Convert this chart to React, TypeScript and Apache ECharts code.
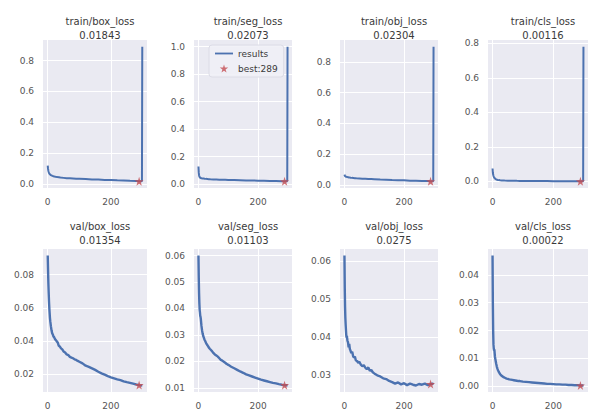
import React, { useEffect, useRef } from "react";
import * as echarts from "echarts";

// ---------- data ----------
const trainEpochs = [0, 1, 2, 3, 4, 5, 6, 8, 10, 12, 15, 18, 21, 25, 30, 35, 40, 50, 60, 70, 80, 90, 100, 120, 140, 160, 180, 200, 220, 240, 260, 280, 289, 295, 298, 299];
const valEpochs = [0, 1, 2, 3, 4, 5, 6, 7, 8, 10, 12, 14, 16, 18, 20, 23, 26, 29, 32, 35, 38, 42, 46, 50, 55, 60, 65, 70, 75, 80, 85, 90, 95, 100, 110, 120, 130, 140, 150, 160, 170, 180, 190, 200, 210, 220, 230, 240, 250, 260, 270, 280, 289, 295, 299];

const trainBoxLoss = [0.12, 0.098, 0.086, 0.078, 0.072, 0.068, 0.065, 0.061, 0.058, 0.056, 0.053, 0.051, 0.049, 0.047, 0.045, 0.044, 0.042, 0.04, 0.038, 0.037, 0.036, 0.035, 0.034, 0.032, 0.03, 0.029, 0.027, 0.026, 0.024, 0.023, 0.021, 0.0195, 0.01843, 0.0181, 0.018, 0.89];
const trainSegLoss = [0.128, 0.085, 0.065, 0.056, 0.051, 0.048, 0.046, 0.044, 0.043, 0.042, 0.041, 0.04, 0.039, 0.038, 0.037, 0.036, 0.035, 0.034, 0.033, 0.032, 0.031, 0.031, 0.03, 0.029, 0.028, 0.027, 0.026, 0.025, 0.024, 0.023, 0.022, 0.021, 0.02073, 0.0206, 0.0205, 1.0];
const trainObjLoss = [0.066, 0.06, 0.057, 0.055, 0.054, 0.053, 0.052, 0.051, 0.05, 0.049, 0.048, 0.047, 0.046, 0.045, 0.044, 0.043, 0.042, 0.041, 0.04, 0.039, 0.038, 0.037, 0.036, 0.034, 0.033, 0.031, 0.03, 0.029, 0.027, 0.026, 0.025, 0.024, 0.02304, 0.0229, 0.0228, 0.9];
const trainClsLoss = [0.075, 0.052, 0.04, 0.033, 0.028, 0.024, 0.021, 0.017, 0.014, 0.012, 0.01, 0.0088, 0.0078, 0.007, 0.0062, 0.0056, 0.0052, 0.0046, 0.0042, 0.0039, 0.0036, 0.0034, 0.0032, 0.0028, 0.0025, 0.0022, 0.002, 0.0018, 0.0016, 0.0015, 0.0013, 0.0012, 0.00116, 0.0011, 0.0011, 0.78];

const valBoxLoss = [0.0915, 0.083, 0.075, 0.069, 0.064, 0.06, 0.057, 0.054, 0.052, 0.049, 0.0465, 0.0448, 0.044, 0.0428, 0.0425, 0.0412, 0.0405, 0.0398, 0.039, 0.0372, 0.0368, 0.0356, 0.035, 0.0338, 0.0332, 0.032, 0.0316, 0.0305, 0.0301, 0.0297, 0.029, 0.0287, 0.0281, 0.0276, 0.0266, 0.0252, 0.0245, 0.0236, 0.0227, 0.0216, 0.0206, 0.0198, 0.0189, 0.0182, 0.0176, 0.017, 0.0165, 0.0158, 0.0153, 0.0149, 0.0144, 0.0139, 0.01354, 0.0134, 0.0133];
const valSegLoss = [0.06, 0.052, 0.046, 0.042, 0.0395, 0.0385, 0.0372, 0.0368, 0.036, 0.0335, 0.0318, 0.0305, 0.0296, 0.029, 0.0283, 0.0276, 0.0268, 0.0263, 0.0258, 0.0252, 0.0248, 0.0243, 0.0238, 0.0232, 0.0226, 0.0222, 0.0218, 0.0212, 0.0206, 0.0203, 0.0199, 0.0195, 0.019, 0.0187, 0.018, 0.0174, 0.0168, 0.0162, 0.0157, 0.0151, 0.0147, 0.0143, 0.0139, 0.0135, 0.0131, 0.0128, 0.0125, 0.0122, 0.0119, 0.0117, 0.0114, 0.0112, 0.01103, 0.011, 0.0109];
const valObjLoss = [0.0615, 0.053, 0.048, 0.045, 0.0432, 0.0418, 0.0405, 0.0398, 0.0402, 0.039, 0.0385, 0.0372, 0.0381, 0.0368, 0.0364, 0.0357, 0.036, 0.0349, 0.0345, 0.0348, 0.0338, 0.0336, 0.0331, 0.0334, 0.0326, 0.0322, 0.0325, 0.0318, 0.0314, 0.0319, 0.031, 0.0312, 0.0306, 0.0303, 0.0298, 0.0295, 0.029, 0.0288, 0.0283, 0.028, 0.0276, 0.0279, 0.0274, 0.0277, 0.0272, 0.0276, 0.0273, 0.0271, 0.0275, 0.0273, 0.0276, 0.0272, 0.0275, 0.0276, 0.0274];
const valClsLoss = [0.047, 0.03, 0.02, 0.015, 0.0135, 0.0128, 0.0132, 0.0118, 0.0105, 0.0092, 0.008, 0.007, 0.0063, 0.0057, 0.0052, 0.0046, 0.0041, 0.0038, 0.0035, 0.0033, 0.0031, 0.0029, 0.0027, 0.0026, 0.0024, 0.0023, 0.0022, 0.0021, 0.002, 0.0019, 0.0018, 0.0018, 0.0017, 0.0016, 0.0015, 0.0014, 0.0013, 0.0012, 0.0011, 0.001, 0.0009, 0.0008, 0.0008, 0.0007, 0.0006, 0.0006, 0.0005, 0.0005, 0.0004, 0.0004, 0.0003, 0.0003, 0.00022, 0.0002, 0.0002];

const panelTitles = ["train/box_loss", "train/seg_loss", "train/obj_loss", "train/cls_loss", "val/box_loss", "val/seg_loss", "val/obj_loss", "val/cls_loss"];
const bestLabels = ["0.01843", "0.02073", "0.02304", "0.00116", "0.01354", "0.01103", "0.0275", "0.00022"];
const bestEpoch = 289;
const xTicks = [0, 200];
const yTicks = [
  [0, 0.2, 0.4, 0.6, 0.8],
  [0, 0.2, 0.4, 0.6, 0.8, 1.0],
  [0, 0.2, 0.4, 0.6, 0.8],
  [0, 0.2, 0.4, 0.6, 0.8],
  [0.02, 0.04, 0.06, 0.08],
  [0.01, 0.02, 0.03, 0.04, 0.05, 0.06],
  [0.03, 0.04, 0.05, 0.06],
  [0, 0.01, 0.02, 0.03, 0.04],
];
const yDecimals = [1, 1, 1, 1, 2, 2, 2, 2];

// ---------- layout / style ----------
const W = 591;
const H = 417;
const colLeft = [43, 194, 340, 488];
const colWidth = [104, 98, 98, 100];
const rowTop = [40, 249];
const rowHeight = [148, 143];
const BG = "#EAEAF2";
const LINE = "#4C72B0";
const STAR = "#C44E52";
const TEXT = "#555555";
const FONT = "DejaVu Sans";
const starPath = "path://M50,0 L61,35 L98,35 L68,57 L79,91 L50,70 L21,91 L32,57 L2,35 L39,35 Z";
const lineIcon = "path://M0,0 L20,0 L20,2 L0,2 Z";

export default function App() {
  const ref = useRef<HTMLDivElement>(null);

  useEffect(() => {
    if (!ref.current) return;
    const chart = echarts.init(ref.current, undefined, { renderer: "svg" });

    const panels = [
      { epochs: trainEpochs, values: trainBoxLoss },
      { epochs: trainEpochs, values: trainSegLoss },
      { epochs: trainEpochs, values: trainObjLoss },
      { epochs: trainEpochs, values: trainClsLoss },
      { epochs: valEpochs, values: valBoxLoss },
      { epochs: valEpochs, values: valSegLoss },
      { epochs: valEpochs, values: valObjLoss },
      { epochs: valEpochs, values: valClsLoss },
    ];

    const grids: any[] = [];
    const xAxes: any[] = [];
    const yAxes: any[] = [];
    const series: any[] = [];
    const titles: any[] = [];

    const xMinData = 0;
    const xMaxData = 299;
    const xPad = (xMaxData - xMinData) * 0.05;

    panels.forEach((p, i) => {
      const r = Math.floor(i / 4);
      const c = i % 4;
      grids.push({
        left: colLeft[c],
        top: rowTop[r],
        width: colWidth[c],
        height: rowHeight[r],
        show: true,
        backgroundColor: BG,
        borderWidth: 0,
        containLabel: false,
      });
      const dmin = Math.min(...p.values);
      const dmax = Math.max(...p.values);
      const pad = (dmax - dmin) * 0.05;
      xAxes.push({
        type: "value",
        gridIndex: i,
        min: xMinData - xPad,
        max: xMaxData + xPad,
        axisLine: { show: false },
        axisTick: { show: false, customValues: xTicks },
        axisLabel: {
          customValues: xTicks,
          color: TEXT,
          fontSize: 9,
          fontFamily: FONT,
          margin: 9,
          formatter: (v: number) => String(Math.round(v)),
        },
        splitLine: { show: true, lineStyle: { color: "#ffffff", width: 1 } },
      });
      const dec = yDecimals[i];
      yAxes.push({
        type: "value",
        gridIndex: i,
        min: dmin - pad,
        max: dmax + pad,
        axisLine: { show: false },
        axisTick: { show: false, customValues: yTicks[i] },
        axisLabel: {
          customValues: yTicks[i],
          color: TEXT,
          fontSize: 9,
          fontFamily: FONT,
          margin: 9,
          formatter: (v: number) => v.toFixed(dec),
        },
        splitLine: { show: true, lineStyle: { color: "#ffffff", width: 1 } },
      });
      series.push({
        type: "line",
        name: "results",
        xAxisIndex: i,
        yAxisIndex: i,
        data: p.epochs.map((e, k) => [e, p.values[k]]),
        showSymbol: false,
        symbol: "none",
        lineStyle: { color: LINE, width: r === 0 ? 2 : 2.4 },
        itemStyle: { color: LINE },
        z: 2,
      });
      const bi = p.epochs.indexOf(bestEpoch);
      series.push({
        type: "scatter",
        name: "best:" + bestEpoch,
        xAxisIndex: i,
        yAxisIndex: i,
        data: [[bestEpoch, p.values[bi]]],
        symbol: starPath,
        symbolSize: 9,
        itemStyle: { color: STAR },
        z: 3,
      });
      titles.push({
        text: panelTitles[i] + "\n" + bestLabels[i],
        left: colLeft[c] + colWidth[c] / 2,
        top: r === 0 ? 9 : 214,
        textAlign: "center",
        textStyle: {
          fontSize: 10,
          fontWeight: "normal",
          color: "#3a3a3a",
          fontFamily: FONT,
          lineHeight: 14,
        },
      });
    });

    chart.setOption({
      animation: false,
      backgroundColor: "#ffffff",
      title: titles,
      grid: grids,
      xAxis: xAxes,
      yAxis: yAxes,
      series,
      legend: {
        data: [
          { name: "results", icon: lineIcon, itemStyle: { color: LINE } },
          { name: "best:" + bestEpoch, icon: starPath },
        ],
        orient: "vertical",
        left: 209,
        top: 45,
        itemWidth: 18,
        itemHeight: 8,
        itemGap: 6,
        padding: [4, 6, 4, 6],
        backgroundColor: "rgba(240,240,246,0.9)",
        borderColor: "#dcdce6",
        borderWidth: 1,
        borderRadius: 3,
        textStyle: { fontSize: 9, color: "#3a3a3a", fontFamily: FONT },
        selectedMode: false,
      },
    });

    return () => chart.dispose();
  }, []);

  return (
    <div
      ref={ref}
      style={{ position: "absolute", left: 0, top: 0, width: W, height: H }}
    />
  );
}
